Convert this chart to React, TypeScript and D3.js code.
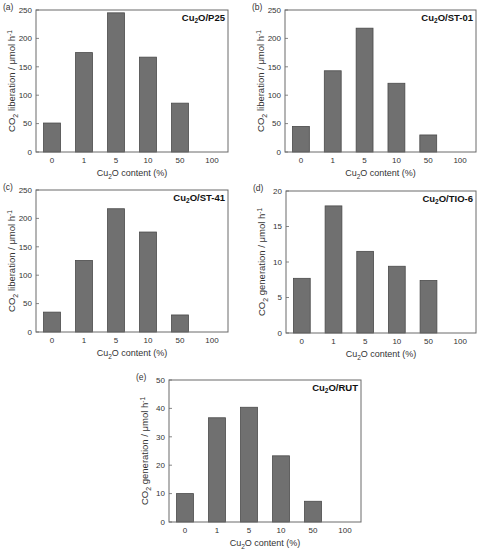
import React from 'react';
import * as d3 from 'd3';

// Cu2O content categories (%)
const categories = ['0', '1', '5', '10', '50', '100'];

// series values
const p25Values = [51, 175, 245, 167, 86, 0];
const st01Values = [45, 143, 218, 121, 30, 0];
const st41Values = [35, 126, 217, 176, 30, 0];
const tio6Values = [7.7, 17.9, 11.5, 9.4, 7.4, 0];
const rutValues = [10, 36.7, 40.4, 23.3, 7.3, 0];

// y tick labels
const ticks250 = [0, 50, 100, 150, 200, 250];
const ticks20 = [0, 5, 10, 15, 20];
const ticks50 = [0, 10, 20, 30, 40, 50];

const panelLetters = ['(a)', '(b)', '(c)', '(d)', '(e)'];
const supports = ['P25', 'ST-01', 'ST-41', 'TIO-6', 'RUT'];
const yWords = ['liberation', 'liberation', 'liberation', 'generation', 'generation'];
const seriesList = [p25Values, st01Values, st41Values, tio6Values, rutValues];
const tickList = [ticks250, ticks250, ticks250, ticks20, ticks50];

// frame positions of each panel
const frames = [
  { x: 36, y: 10, w: 192, h: 142 },
  { x: 285, y: 10, w: 191, h: 142 },
  { x: 36, y: 190, w: 192, h: 142 },
  { x: 286, y: 191, w: 190, h: 142 },
  { x: 169, y: 380, w: 192, h: 142 },
];

const font = 'Liberation Sans, Arial, sans-serif';

function Panel(props: any) {
  const { i } = props;
  const f = frames[i];
  const values: number[] = seriesList[i];
  const ticks: number[] = tickList[i];

  const x = d3.scaleBand()
    .domain(categories)
    .range([f.x, f.x + f.w])
    .paddingInner(0.47)
    .paddingOuter(0.235);
  const y = d3.scaleLinear()
    .domain([0, ticks[ticks.length - 1]])
    .range([f.y + f.h, f.y]);

  const cx = f.x + f.w / 2;
  const cy = f.y + f.h / 2;

  return (
    <g fontFamily={font}>
      {categories.map((c, k) => (
        <rect key={c}
          x={x(c)}
          y={y(values[k])}
          width={x.bandwidth()}
          height={y(0) - y(values[k])}
          fill="#707070"
          stroke="#4a4a4a"
          strokeWidth={0.8} />
      ))}
      <rect x={f.x} y={f.y} width={f.w} height={f.h} fill="none" stroke="#6a6a6a" strokeWidth={1} />
      {ticks.map(t => (
        <g key={t}>
          <line x1={f.x} x2={f.x + 3} y1={y(t)} y2={y(t)} stroke="#6a6a6a" strokeWidth={0.8} />
          <text x={f.x - 4} y={y(t) + 2.8} fontSize={8} textAnchor="end" fill="#333">{t}</text>
        </g>
      ))}
      {categories.map(c => (
        <text key={c} x={(x(c) as number) + x.bandwidth() / 2} y={f.y + f.h + 10.5}
          fontSize={8} textAnchor="middle" fill="#333">{c}</text>
      ))}
      <text x={cx} y={f.y + f.h + 24} fontSize={9} textAnchor="middle" fill="#333">
        Cu<tspan fontSize={6.5} dy={2.5}>2</tspan><tspan dy={-2.5}>O content (%)</tspan>
      </text>
      <text transform={`translate(${f.x - 21},${cy}) rotate(-90)`} fontSize={9.5} textAnchor="middle" fill="#333">
        CO<tspan fontSize={7} dy={2.5}>2</tspan><tspan dy={-2.5}>{` ${yWords[i]} / μmol h`}</tspan>
        <tspan fontSize={6.5} dy={-3.5}>-1</tspan>
      </text>
      <text x={f.x + f.w - 3} y={f.y + 11} fontSize={9.5} fontWeight="bold" textAnchor="end" fill="#111">
        Cu<tspan fontSize={6.5} dy={2}>2</tspan><tspan dy={-2}>{`O/${supports[i]}`}</tspan>
      </text>
      <text x={f.x - 33} y={f.y} fontSize={8.5} fill="#333">{panelLetters[i]}</text>
    </g>
  );
}

export default function App() {
  return (
    <svg width={480} height={550} style={{ position: 'absolute', left: 0, top: 0, background: '#fff' }}>
      {frames.map((_, i) => <Panel key={i} i={i} />)}
    </svg>
  );
}
